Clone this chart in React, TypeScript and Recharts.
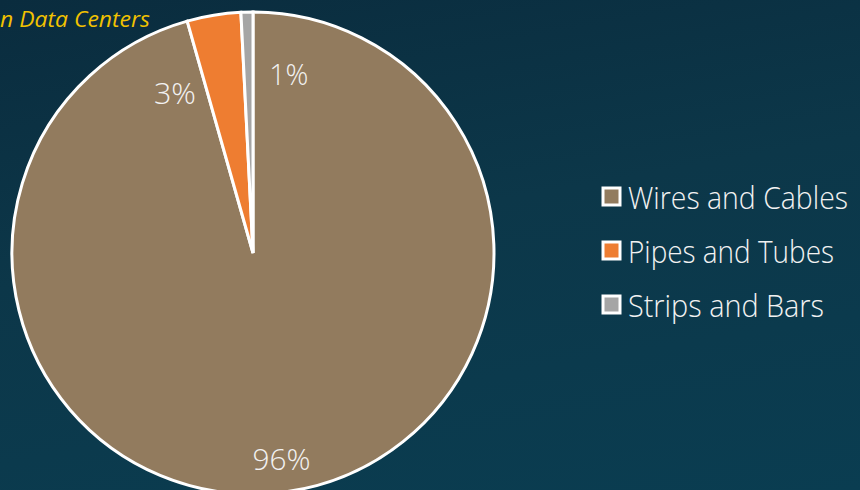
import { PieChart, Pie, Cell, Legend } from "recharts";

const categories = ["Wires and Cables", "Pipes and Tubes", "Strips and Bars"];
const shares = [95.6, 3.6, 0.8];
const shareLabels = ["96%", "3%", "1%"];
const colors = ["#927b5e", "#ee7d31", "#a5a5a5"];

const data = categories.map((name, i) => ({ name, value: shares[i], label: shareLabels[i] }));

// label placement tweaks (Excel pushed the small ones apart)
const labelAngleShift = [0, 16.6, -12.7];
const labelRadius = [0.86, 0.74, 0.76];
const labelWidth = [58, 42, 39];
const RAD = Math.PI / 180;

const font = "'Open Sans', 'DejaVu Sans', sans-serif";

function renderLabel(props: any) {
  const { cx, cy, midAngle, outerRadius, index } = props;
  const a = (midAngle + labelAngleShift[index]) * RAD;
  const r = outerRadius * labelRadius[index];
  const x = cx + r * Math.cos(-a);
  const y = cy + r * Math.sin(-a);
  return (
    <text
      x={x}
      y={y}
      fill="#f2f2f2"
      textAnchor="middle"
      dominantBaseline="central"
      fontFamily={font}
      fontWeight={300}
      fontSize={30}
      textLength={labelWidth[index]}
      lengthAdjust="spacingAndGlyphs"
    >
      {data[index].label}
    </text>
  );
}

const legendWidths = [220, 206, 196];

function LegendBox() {
  return (
    <svg width={258} height={150}>
      {data.map((d, i) => (
        <g key={d.name} transform={`translate(0, ${i * 54})`}>
          <rect x={3} y={10} width={17} height={17} fill={colors[i]} stroke="#ffffff" strokeWidth={3} />
          <text
            x={28}
            y={19}
            fill="#f2f2f2"
            dominantBaseline="central"
            fontFamily={font}
            fontWeight={300}
            fontSize={31}
            textLength={legendWidths[i]}
            lengthAdjust="spacingAndGlyphs"
          >
            {d.name}
          </text>
        </g>
      ))}
    </svg>
  );
}

export default function App() {
  return (
    <div
      style={{
        position: "absolute",
        left: 0,
        top: 0,
        width: 860,
        height: 490,
        overflow: "hidden",
        background: "linear-gradient(170deg, #0a2c3e 0%, #0c3749 45%, #0a3d51 100%)",
      }}
    >
      <PieChart width={860} height={490}>
        <text
          x={0}
          y={18}
          textAnchor="start"
          dominantBaseline="central"
          fill="#f2c200"
          fontFamily={font}
          fontStyle="italic"
          fontSize={22}
          textLength={150}
          lengthAdjust="spacingAndGlyphs"
        >
          n Data Centers
        </text>
        <Pie
          data={data}
          dataKey="value"
          nameKey="name"
          cx={248}
          cy={248}
          outerRadius={241}
          startAngle={90}
          endAngle={-270}
          stroke="#ffffff"
          strokeWidth={3}
          label={renderLabel}
          labelLine={false}
          isAnimationActive={false}
        >
          {data.map((d, i) => (
            <Cell key={d.name} fill={colors[i]} />
          ))}
        </Pie>
        <Legend
          layout="vertical"
          content={() => <LegendBox />}
          wrapperStyle={{ left: 600, top: 178, width: 258 }}
        />
      </PieChart>
    </div>
  );
}
